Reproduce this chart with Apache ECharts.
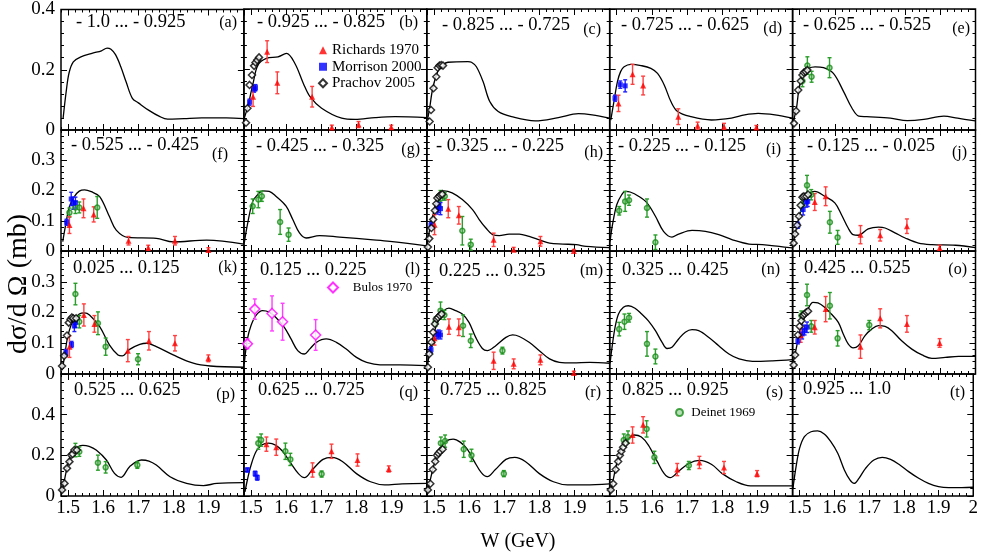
<!DOCTYPE html>
<html><head><meta charset="utf-8">
<script src="https://cdn.jsdelivr.net/npm/echarts@6/dist/echarts.min.js"></script>
<style>html,body{margin:0;padding:0;background:#fff}#c{width:981px;height:556px}</style>
</head><body><div id="c"></div>
<script>
// ---------- tick / label data ----------
const xMajorTicks = [1.5, 1.6, 1.7, 1.8, 1.9, 2.0];
const rowYMax = [0.4, 0.4, 0.4, 0.6];
const rowYInterval = [0.2, 0.1, 0.1, 0.2];
const rangeLabels = ['- 1.0 ... - 0.925','- 0.925 ... - 0.825','- 0.825 ... - 0.725','- 0.725 ... - 0.625','- 0.625 ... - 0.525',
  '- 0.525 ... - 0.425','- 0.425 ... - 0.325','- 0.325 ... - 0.225','- 0.225 ... - 0.125','- 0.125 ... - 0.025',
  '0.025 ... 0.125','0.125 ... 0.225','0.225 ... 0.325','0.325 ... 0.425','0.425 ... 0.525',
  '0.525 ... 0.625','0.625 ... 0.725','0.725 ... 0.825','0.825 ... 0.925','0.925 ... 1.0'];
const panelLetters = ['(a)','(b)','(c)','(d)','(e)','(f)','(g)','(h)','(i)','(j)','(k)','(l)','(m)','(n)','(o)','(p)','(q)','(r)','(s)','(t)'];

// ---------- curves [W, dσ/dΩ] ----------
const curve_a = [[1.486,0.039],[1.495,0.13],[1.503,0.19],[1.515,0.226],[1.535,0.242],[1.57,0.255],[1.595,0.263],[1.611,0.272],[1.622,0.268],[1.635,0.25],[1.65,0.21],[1.665,0.16],[1.683,0.105],[1.70,0.09],[1.73,0.065],[1.76,0.045],[1.783,0.036],[1.83,0.038],[1.88,0.040],[1.95,0.040],[2.0,0.038]];
const curve_b = [[1.481,0.039],[1.491,0.077],[1.506,0.154],[1.520,0.215],[1.544,0.237],[1.577,0.242],[1.601,0.253],[1.625,0.220],[1.649,0.154],[1.668,0.110],[1.701,0.072],[1.758,0.039],[1.796,0.035],[1.853,0.041],[1.910,0.044],[2.0,0.041]];
const curve_c = [[1.483,0.039],[1.488,0.072],[1.497,0.138],[1.511,0.193],[1.526,0.215],[1.540,0.224],[1.597,0.226],[1.607,0.224],[1.621,0.209],[1.640,0.160],[1.659,0.094],[1.683,0.061],[1.721,0.044],[1.788,0.030],[1.854,0.041],[1.911,0.054],[1.950,0.050],[2.0,0.039]];
const curve_d = [[1.483,0.033],[1.492,0.094],[1.502,0.160],[1.511,0.193],[1.521,0.209],[1.540,0.217],[1.569,0.213],[1.597,0.204],[1.616,0.187],[1.635,0.149],[1.654,0.094],[1.673,0.061],[1.711,0.044],[1.769,0.033],[1.826,0.039],[1.864,0.050],[1.902,0.055],[1.950,0.050],[2.0,0.039]];
const curve_e = [[1.482,0.028],[1.491,0.072],[1.497,0.127],[1.506,0.176],[1.515,0.193],[1.525,0.204],[1.544,0.209],[1.568,0.206],[1.596,0.187],[1.625,0.127],[1.649,0.072],[1.668,0.046],[1.691,0.044],[1.758,0.039],[1.806,0.031],[1.853,0.035],[1.910,0.046],[1.949,0.039],[2.0,0.030]];
const curve_f = [[1.485,0.031],[1.494,0.091],[1.504,0.147],[1.518,0.180],[1.532,0.198],[1.547,0.202],[1.566,0.196],[1.590,0.180],[1.618,0.113],[1.637,0.069],[1.670,0.045],[1.751,0.042],[1.799,0.030],[1.894,0.036],[2.0,0.023]];
const curve_g = [[1.481,0.026],[1.490,0.087],[1.505,0.164],[1.519,0.186],[1.533,0.199],[1.552,0.197],[1.571,0.181],[1.600,0.148],[1.619,0.104],[1.638,0.060],[1.657,0.043],[1.695,0.051],[1.752,0.046],[1.848,0.037],[1.895,0.032],[2.0,0.017]];
const curve_h = [[1.481,0.021],[1.490,0.082],[1.500,0.131],[1.510,0.175],[1.519,0.195],[1.529,0.199],[1.552,0.192],[1.581,0.170],[1.610,0.137],[1.629,0.104],[1.648,0.076],[1.667,0.054],[1.686,0.051],[1.714,0.056],[1.743,0.056],[1.771,0.048],[1.800,0.037],[1.829,0.026],[1.867,0.023],[1.905,0.021],[1.933,0.015],[2.0,0.011]];
const curve_i = [[1.481,0.032],[1.488,0.087],[1.500,0.153],[1.514,0.186],[1.524,0.197],[1.538,0.195],[1.562,0.181],[1.586,0.159],[1.610,0.115],[1.633,0.065],[1.657,0.046],[1.676,0.056],[1.714,0.068],[1.752,0.065],[1.790,0.054],[1.829,0.037],[1.876,0.023],[1.914,0.021],[1.962,0.015],[2.0,0.010]];
const curve_j = [[1.481,0.021],[1.490,0.071],[1.500,0.120],[1.514,0.170],[1.529,0.192],[1.543,0.197],[1.571,0.181],[1.600,0.159],[1.619,0.120],[1.638,0.076],[1.652,0.054],[1.667,0.052],[1.695,0.073],[1.724,0.079],[1.743,0.076],[1.771,0.060],[1.800,0.043],[1.838,0.026],[1.876,0.021],[1.943,0.019],[2.0,0.011]];
const curve_k = [[1.483,0.013],[1.490,0.056],[1.499,0.121],[1.513,0.170],[1.532,0.195],[1.547,0.199],[1.561,0.192],[1.590,0.154],[1.618,0.094],[1.642,0.062],[1.654,0.059],[1.675,0.080],[1.704,0.096],[1.723,0.100],[1.751,0.089],[1.799,0.062],[1.856,0.035],[1.904,0.026],[2.0,0.022]];
const curve_l = [[1.481,0.033],[1.490,0.114],[1.500,0.157],[1.514,0.190],[1.533,0.206],[1.552,0.201],[1.571,0.184],[1.595,0.152],[1.614,0.114],[1.633,0.076],[1.652,0.065],[1.667,0.081],[1.686,0.103],[1.714,0.114],[1.743,0.103],[1.771,0.081],[1.800,0.054],[1.829,0.038],[1.867,0.030],[1.924,0.030],[2.0,0.027]];
const curve_m = [[1.481,0.022],[1.490,0.081],[1.500,0.130],[1.514,0.179],[1.529,0.206],[1.543,0.214],[1.562,0.206],[1.581,0.195],[1.600,0.168],[1.619,0.119],[1.638,0.083],[1.652,0.076],[1.676,0.092],[1.705,0.119],[1.724,0.127],[1.743,0.122],[1.771,0.103],[1.800,0.076],[1.829,0.049],[1.857,0.038],[1.895,0.036],[1.943,0.038],[2.0,0.035]];
const curve_n = [[1.481,0.035],[1.487,0.09],[1.495,0.15],[1.505,0.195],[1.519,0.217],[1.533,0.222],[1.552,0.214],[1.571,0.195],[1.590,0.173],[1.610,0.141],[1.629,0.103],[1.643,0.083],[1.657,0.087],[1.676,0.114],[1.695,0.136],[1.714,0.144],[1.733,0.141],[1.762,0.119],[1.790,0.092],[1.819,0.065],[1.848,0.049],[1.886,0.041],[1.943,0.043],[2.0,0.047]];
const curve_o = [[1.481,0.033],[1.490,0.081],[1.500,0.136],[1.510,0.173],[1.524,0.211],[1.538,0.233],[1.552,0.231],[1.571,0.217],[1.590,0.195],[1.610,0.168],[1.624,0.130],[1.638,0.098],[1.652,0.085],[1.667,0.092],[1.686,0.125],[1.705,0.146],[1.724,0.157],[1.743,0.155],[1.762,0.141],[1.790,0.108],[1.819,0.081],[1.848,0.062],[1.876,0.051],[1.914,0.054],[1.952,0.057],[2.0,0.057]];
const curve_p = [[1.483,0.021],[1.490,0.079],[1.499,0.152],[1.513,0.218],[1.532,0.246],[1.542,0.249],[1.560,0.244],[1.580,0.226],[1.609,0.177],[1.632,0.111],[1.651,0.092],[1.675,0.144],[1.709,0.177],[1.730,0.172],[1.751,0.152],[1.790,0.095],[1.837,0.062],[1.885,0.051],[1.923,0.062],[2.0,0.066]];
const curve_q = [[1.483,0.02],[1.490,0.08],[1.500,0.15],[1.515,0.22],[1.532,0.252],[1.550,0.26],[1.57,0.25],[1.59,0.22],[1.61,0.17],[1.635,0.11],[1.652,0.09],[1.675,0.13],[1.705,0.18],[1.73,0.19],[1.76,0.17],[1.80,0.11],[1.84,0.07],[1.88,0.055],[1.93,0.06],[2.0,0.062]];
const curve_r = [[1.483,0.02],[1.49,0.08],[1.50,0.15],[1.515,0.23],[1.535,0.27],[1.555,0.28],[1.575,0.265],[1.595,0.23],[1.615,0.17],[1.635,0.115],[1.652,0.095],[1.675,0.13],[1.705,0.18],[1.73,0.19],[1.76,0.17],[1.80,0.11],[1.84,0.07],[1.88,0.055],[1.93,0.055],[2.0,0.06]];
const curve_s = [[1.483,0.02],[1.49,0.08],[1.50,0.16],[1.515,0.24],[1.535,0.285],[1.55,0.30],[1.57,0.29],[1.59,0.25],[1.615,0.17],[1.635,0.11],[1.652,0.09],[1.675,0.12],[1.705,0.16],[1.735,0.175],[1.77,0.155],[1.80,0.11],[1.84,0.07],[1.88,0.05],[1.93,0.05],[2.0,0.05]];
const curve_t = [[1.481,0.038],[1.490,0.144],[1.500,0.234],[1.514,0.292],[1.533,0.316],[1.552,0.320],[1.571,0.305],[1.590,0.267],[1.610,0.210],[1.629,0.128],[1.645,0.079],[1.657,0.062],[1.671,0.087],[1.690,0.136],[1.714,0.177],[1.738,0.190],[1.762,0.180],[1.786,0.156],[1.814,0.120],[1.843,0.087],[1.871,0.062],[1.900,0.046],[1.929,0.041],[1.967,0.041],[2.0,0.043]];

// ---------- measured points [W, value, error] ----------
const richards_b = [[1.506,0.110,0.032],[1.546,0.259,0.036],[1.575,0.156,0.036],[1.674,0.110,0.034],[1.730,0.008,0.008],[1.806,0.018,0.01],[1.899,0.009,0.007]];
const morrison_b = [[1.496,0.092,0.01],[1.509,0.135,0.01],[1.513,0.14,0.01]];
const prachov_b = [[1.486,0.024],[1.490,0.072],[1.496,0.149],[1.503,0.182],[1.509,0.212],[1.513,0.223],[1.518,0.231],[1.523,0.240]];
const prachov_c = [[1.488,0.028],[1.492,0.066],[1.499,0.138],[1.507,0.176],[1.511,0.206],[1.516,0.213],[1.521,0.215],[1.526,0.213]];
const richards_d = [[1.505,0.088,0.027],[1.545,0.184,0.033],[1.575,0.147,0.031],[1.675,0.044,0.026],[1.730,0.014,0.012],[1.805,0.011,0.011],[1.897,0.008,0.007]];
const morrison_d = [[1.495,0.105,0.01],[1.510,0.150,0.012],[1.524,0.146,0.02]];
const prachov_e = [[1.484,0.022],[1.490,0.063],[1.496,0.132],[1.503,0.162],[1.508,0.182],[1.512,0.190],[1.517,0.193],[1.522,0.198]];
const deinet_e = [[1.508,0.162,0.019],[1.522,0.213,0.029],[1.534,0.176,0.018],[1.585,0.206,0.033]];
const morrison_f = [[1.496,0.095,0.01],[1.509,0.172,0.022],[1.515,0.158,0.02],[1.521,0.160,0.018]];
const richards_f = [[1.504,0.086,0.028],[1.544,0.141,0.031],[1.573,0.121,0.025],[1.672,0.034,0.014],[1.728,0.011,0.008],[1.804,0.034,0.014],[1.899,0.003,0.008]];
const deinet_f = [[1.504,0.127,0.015],[1.521,0.144,0.02],[1.532,0.144,0.018],[1.583,0.144,0.036]];
const deinet_g = [[1.505,0.148,0.024],[1.521,0.170,0.027],[1.531,0.181,0.017],[1.583,0.096,0.041],[1.607,0.054,0.022]];
const prachov_h = [[1.483,0.013],[1.487,0.041],[1.493,0.076],[1.498,0.104],[1.503,0.134],[1.507,0.156],[1.510,0.175],[1.515,0.181],[1.519,0.186],[1.524,0.188]];
const morrison_h = [[1.492,0.085,0.01],[1.510,0.142,0.02],[1.514,0.148,0.02],[1.519,0.140,0.02]];
const richards_h = [[1.502,0.087,0.033],[1.541,0.140,0.03],[1.571,0.118,0.029],[1.670,0.037,0.022],[1.727,0.004,0.008],[1.803,0.032,0.016],[1.898,0.0,0.005]];
const deinet_h = [[1.519,0.173,0.027],[1.531,0.181,0.013],[1.581,0.067,0.047],[1.605,0.021,0.018]];
const deinet_i = [[1.507,0.133,0.014],[1.524,0.164,0.033],[1.535,0.168,0.017],[1.586,0.142,0.030],[1.610,0.029,0.024]];
const prachov_j = [[1.483,0.026],[1.487,0.056],[1.493,0.085],[1.498,0.115],[1.503,0.151],[1.508,0.178],[1.512,0.181],[1.519,0.181],[1.524,0.187]];
const morrison_j = [[1.495,0.085,0.01],[1.510,0.137,0.018],[1.519,0.162,0.017],[1.523,0.164,0.017]];
const deinet_j = [[1.507,0.151,0.02],[1.521,0.217,0.033],[1.533,0.186,0.017],[1.586,0.095,0.036],[1.608,0.045,0.023]];
const richards_j = [[1.543,0.162,0.028],[1.574,0.181,0.031],[1.673,0.054,0.03],[1.729,0.052,0.019],[1.805,0.082,0.024],[1.898,0.010,0.009]];
const prachov_k = [[1.483,0.026],[1.489,0.059],[1.497,0.125],[1.502,0.167],[1.507,0.178],[1.511,0.184],[1.515,0.181],[1.523,0.181]];
const morrison_k = [[1.494,0.070,0.01],[1.510,0.096,0.01],[1.518,0.156,0.018],[1.521,0.167,0.015]];
const richards_k = [[1.504,0.089,0.035],[1.545,0.192,0.036],[1.575,0.163,0.027],[1.670,0.076,0.036],[1.730,0.108,0.03],[1.804,0.100,0.025],[1.899,0.051,0.011]];
const deinet_k = [[1.521,0.260,0.035],[1.532,0.170,0.02],[1.585,0.165,0.037],[1.607,0.089,0.028],[1.699,0.048,0.018]];
const bulos_l = [[1.490,0.098,0.016],[1.511,0.211,0.033],[1.560,0.197,0.057],[1.590,0.170,0.06],[1.684,0.127,0.05]];
const prachov_m = [[1.483,0.022],[1.487,0.065],[1.493,0.103],[1.498,0.136],[1.503,0.163],[1.508,0.179],[1.512,0.184],[1.517,0.190],[1.522,0.195]];
const morrison_m = [[1.492,0.079,0.01],[1.509,0.127,0.013],[1.514,0.130,0.013],[1.519,0.127,0.013]];
const richards_m = [[1.502,0.116,0.022],[1.543,0.154,0.025],[1.571,0.152,0.027],[1.670,0.043,0.028],[1.727,0.033,0.016],[1.803,0.046,0.016],[1.898,0.003,0.006]];
const deinet_m = [[1.505,0.170,0.015],[1.519,0.206,0.028],[1.530,0.192,0.015],[1.583,0.157,0.035],[1.605,0.108,0.022],[1.695,0.076,0.011]];
const deinet_n = [[1.507,0.146,0.022],[1.522,0.170,0.025],[1.535,0.183,0.014],[1.586,0.098,0.04],[1.610,0.057,0.024]];
const prachov_o = [[1.483,0.029],[1.487,0.062],[1.495,0.127],[1.500,0.155],[1.505,0.173],[1.510,0.190],[1.514,0.195],[1.519,0.201],[1.524,0.204]];
const morrison_o = [[1.495,0.108,0.01],[1.507,0.130,0.016],[1.514,0.143,0.016],[1.521,0.152,0.017]];
const richards_o = [[1.503,0.127,0.024],[1.543,0.152,0.022],[1.574,0.211,0.041],[1.673,0.089,0.038],[1.729,0.181,0.031],[1.805,0.163,0.027],[1.898,0.101,0.014]];
const deinet_o = [[1.505,0.190,0.015],[1.521,0.257,0.035],[1.533,0.155,0.019],[1.586,0.222,0.043],[1.608,0.116,0.025],[1.698,0.159,0.015]];
const prachov_p = [[1.483,0.030],[1.490,0.062],[1.497,0.136],[1.504,0.169],[1.509,0.202],[1.513,0.207],[1.518,0.226],[1.525,0.226]];
const deinet_p = [[1.521,0.226,0.033],[1.532,0.218,0.023],[1.585,0.164,0.037],[1.607,0.141,0.028],[1.697,0.152,0.016]];
const morrison_q = [[1.490,0.128,0.01],[1.512,0.11,0.012],[1.518,0.09,0.012]];
const deinet_q = [[1.521,0.26,0.03],[1.529,0.275,0.03],[1.598,0.22,0.04],[1.612,0.18,0.03],[1.701,0.108,0.015]];
const richards_q = [[1.544,0.255,0.035],[1.572,0.24,0.04],[1.675,0.128,0.035],[1.729,0.22,0.035],[1.803,0.177,0.03],[1.892,0.133,0.015]];
const prachov_r = [[1.483,0.03],[1.49,0.06],[1.497,0.13],[1.504,0.17],[1.509,0.2],[1.513,0.21],[1.518,0.22],[1.525,0.23]];
const deinet_r = [[1.52,0.26,0.03],[1.532,0.27,0.03],[1.585,0.23,0.04],[1.607,0.20,0.03],[1.699,0.11,0.015]];
const prachov_s = [[1.483,0.03],[1.49,0.06],[1.497,0.13],[1.504,0.17],[1.509,0.2],[1.513,0.22],[1.518,0.24],[1.525,0.26]];
const deinet_s = [[1.52,0.275,0.03],[1.532,0.29,0.03],[1.585,0.33,0.04],[1.607,0.19,0.03],[1.705,0.15,0.02]];
const richards_s = [[1.545,0.30,0.04],[1.575,0.35,0.04],[1.672,0.13,0.03],[1.735,0.165,0.03],[1.805,0.14,0.03],[1.899,0.11,0.015]];

// ---------- panel assembly ----------
const panels = [
  {curve: curve_a},
  {curve: curve_b, richards: richards_b, morrison: morrison_b, prachov: prachov_b},
  {curve: curve_c, prachov: prachov_c},
  {curve: curve_d, richards: richards_d, morrison: morrison_d},
  {curve: curve_e, prachov: prachov_e, deinet: deinet_e},
  {curve: curve_f, richards: richards_f, morrison: morrison_f, deinet: deinet_f},
  {curve: curve_g, deinet: deinet_g},
  {curve: curve_h, richards: richards_h, morrison: morrison_h, prachov: prachov_h, deinet: deinet_h},
  {curve: curve_i, deinet: deinet_i},
  {curve: curve_j, richards: richards_j, morrison: morrison_j, prachov: prachov_j, deinet: deinet_j},
  {curve: curve_k, richards: richards_k, morrison: morrison_k, prachov: prachov_k, deinet: deinet_k},
  {curve: curve_l, bulos: bulos_l},
  {curve: curve_m, richards: richards_m, morrison: morrison_m, prachov: prachov_m, deinet: deinet_m},
  {curve: curve_n, deinet: deinet_n},
  {curve: curve_o, richards: richards_o, morrison: morrison_o, prachov: prachov_o, deinet: deinet_o},
  {curve: curve_p, prachov: prachov_p, deinet: deinet_p},
  {curve: curve_q, richards: richards_q, morrison: morrison_q, deinet: deinet_q},
  {curve: curve_r, prachov: prachov_r, deinet: deinet_r},
  {curve: curve_s, richards: richards_s, prachov: prachov_s, deinet: deinet_s},
  {curve: curve_t}
];

// ---------- layout ----------
const FONT = '"Liberation Serif","Times New Roman",serif';
const colLeft = 61, colW = 182.9;
const rowTop = [9, 130, 251, 374];
const rowH = [121, 121, 123, 122];
const labelPos = [[76,22],[257,22],[442,25],[621,25],[803,25],[71,145],[256,146],[436,146],[618,146],[807,146],
  [73,268],[260,270],[439,271],[622,270],[804,268],[74,390],[258,390],[440,390],[622,390],[803,389]];
const letterPos = [[237,23],[418,23],[601,30],[782,29],[970,29],[228,155],[420,150],[603,153],[781,150],[967,153],
  [237,268],[420,270],[603,271],[780,270],[967,270],[235,395],[418,393],[601,393],[783,393],[965,393]];

const styles = {
  richards: {name: 'Richards 1970', symbol: 'triangle', size: 6, item: {color: '#ff0000'}, err: '#ff4040'},
  morrison: {name: 'Morrison 2000', symbol: 'rect', size: 5, item: {color: '#0000ff'}, err: '#2020ff'},
  prachov: {name: 'Prachov 2005', symbol: 'diamond', size: 7, item: {color: '#ffffff', borderColor: '#000', borderWidth: 1.5}, err: null},
  deinet: {name: 'Deinet 1969', symbol: 'circle', size: 5, item: {color: 'rgba(90,180,90,0.55)', borderColor: '#1a8f1a', borderWidth: 1.5}, err: '#2a9e2a'},
  bulos: {name: 'Bulos 1970', symbol: 'diamond', size: 10, item: {color: '#ffffff', borderColor: '#ff00ff', borderWidth: 1.5}, err: '#ff40ff'}
};

function errRender(color) {
  return function (params, api) {
    const x = api.value(0), y = api.value(1), e = api.value(2);
    const t = api.coord([x, y + e]), b = api.coord([x, y - e]);
    const st = {stroke: color, lineWidth: 1.4};
    return {type: 'group', children: [
      {type: 'line', shape: {x1: t[0], y1: t[1], x2: b[0], y2: b[1]}, style: st},
      {type: 'line', shape: {x1: t[0] - 2, y1: t[1], x2: t[0] + 2, y2: t[1]}, style: st},
      {type: 'line', shape: {x1: b[0] - 2, y1: b[1], x2: b[0] + 2, y2: b[1]}, style: st}
    ]};
  };
}

const grids = [], xAxes = [], yAxes = [], series = [], graphics = [];
const tickStyle = {color: '#000', width: 1};
panels.forEach((p, i) => {
  const r = Math.floor(i / 5), c = i % 5;
  grids.push({left: colLeft + c * colW, top: rowTop[r], width: colW, height: rowH[r],
    show: true, borderColor: '#000', borderWidth: 1.5, backgroundColor: 'transparent', containLabel: false});
  const lastRow = r === 3;
  const labelVals = c === 4 ? xMajorTicks : xMajorTicks.slice(0, 5);
  ['bottom', 'top'].forEach(pos => {
    xAxes.push({type: 'value', gridIndex: i, position: pos, min: 1.48, max: 2.0, interval: 0.02,
      axisLine: {show: false}, splitLine: {show: false},
      axisTick: {show: true, inside: true, length: 3, lineStyle: tickStyle},
      axisLabel: (pos === 'bottom' && lastRow) ? {show: true, customValues: labelVals, margin: 3,
        fontFamily: FONT, fontSize: 19, color: '#000',
        formatter: v => (Math.abs(v - 2) < 1e-6 ? '2' : v.toFixed(1))} : {show: false}});
    xAxes.push({type: 'value', gridIndex: i, position: pos, min: 1.48, max: 2.0,
      axisLine: {show: false}, splitLine: {show: false},
      axisTick: {show: true, inside: true, length: 6, customValues: xMajorTicks, lineStyle: tickStyle},
      axisLabel: {show: false}});
  });
  ['left', 'right'].forEach(pos => {
    yAxes.push({type: 'value', gridIndex: i, position: pos, min: 0, max: rowYMax[r], interval: rowYInterval[r],
      axisLine: {show: false}, splitLine: {show: false},
      axisTick: {show: true, inside: true, length: 6, lineStyle: tickStyle},
      minorTick: {show: true, splitNumber: 5, length: 3, lineStyle: tickStyle},
      axisLabel: (pos === 'left' && c === 0) ? {show: true, margin: 6, fontFamily: FONT, fontSize: 19, color: '#000',
        formatter: v => {
          if (r > 0 && Math.abs(v - rowYMax[r]) < 1e-6) return '';
          return v === 0 ? '0' : String(+v.toFixed(2));
        }} : {show: false}});
  });
  const xi = 4 * i, yi = 2 * i;
  series.push({type: 'line', xAxisIndex: xi, yAxisIndex: yi, data: p.curve, showSymbol: false, smooth: 0.35,
    lineStyle: {color: '#000', width: 1.3}, silent: true, z: 2, clip: true});
  ['deinet', 'morrison', 'richards', 'bulos', 'prachov'].forEach(k => {
    if (!p[k]) return;
    const s = styles[k];
    if (s.err) {
      series.push({type: 'custom', name: k + '_err', xAxisIndex: xi, yAxisIndex: yi, data: p[k],
        encode: {x: 0, y: 1}, renderItem: errRender(s.err), clip: true, silent: true, z: 3});
    }
    series.push({type: 'scatter', name: s.name, xAxisIndex: xi, yAxisIndex: yi, data: p[k].map(d => [d[0], d[1]]),
      symbol: s.symbol, symbolSize: s.size, itemStyle: s.item, silent: true, z: 4});
  });
  graphics.push({type: 'text', x: labelPos[i][0], y: labelPos[i][1], silent: true,
    style: {text: rangeLabels[i], font: '18.5px ' + FONT, fill: '#000', textAlign: 'left', textVerticalAlign: 'middle'}});
  graphics.push({type: 'text', x: letterPos[i][0], y: letterPos[i][1], silent: true,
    style: {text: panelLetters[i], font: '16px ' + FONT, fill: '#000', textAlign: 'right', textVerticalAlign: 'middle'}});
});

graphics.push({type: 'text', x: 19, y: 284, rotation: Math.PI / 2, silent: true,
  style: {text: 'dσ/d Ω (mb)', font: '28px ' + FONT, fill: '#000', textAlign: 'center', textVerticalAlign: 'middle'}});
graphics.push({type: 'text', x: 518, y: 542, silent: true,
  style: {text: 'W (GeV)', font: '20px ' + FONT, fill: '#000', textAlign: 'center', textVerticalAlign: 'middle'}});

const legendCommon = {orient: 'vertical', selectedMode: false, itemGap: 0, padding: 0,
  textStyle: {fontFamily: FONT, color: '#000'}};
const option = {
  animation: false,
  backgroundColor: '#fff',
  grid: grids, xAxis: xAxes, yAxis: yAxes, series: series,
  legend: [
    Object.assign({}, legendCommon, {left: 318, top: 42, itemWidth: 8, itemHeight: 8,
      textStyle: {fontFamily: FONT, color: '#000', fontSize: 15, lineHeight: 16.5},
      data: ['Richards 1970', 'Morrison 2000', 'Prachov 2005']}),
    Object.assign({}, legendCommon, {left: 327, top: 281, itemWidth: 10, itemHeight: 10,
      textStyle: {fontFamily: FONT, color: '#000', fontSize: 13},
      formatter: n => '   ' + n, data: ['Bulos 1970']}),
    Object.assign({}, legendCommon, {left: 675, top: 406, itemWidth: 7, itemHeight: 7,
      textStyle: {fontFamily: FONT, color: '#000', fontSize: 13},
      formatter: n => ' ' + n, data: ['Deinet 1969']})
  ],
  graphic: graphics
};
const chart = echarts.init(document.getElementById('c'), null, {renderer: 'canvas'});
chart.setOption(option);
</script></body></html>
